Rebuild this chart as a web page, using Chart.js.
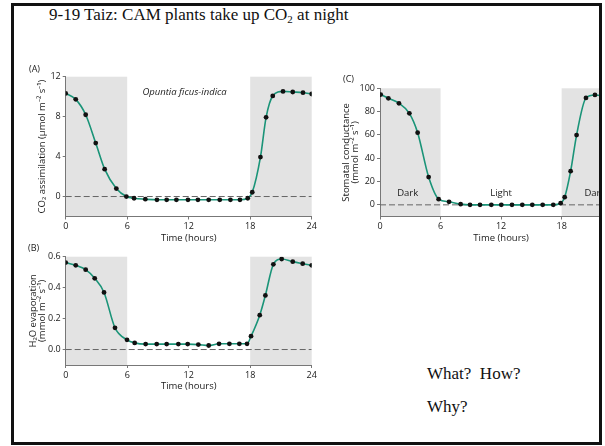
<!DOCTYPE html>
<html>
<head>
<meta charset="utf-8">
<script src="https://cdn.jsdelivr.net/npm/chart.js@4.4.1/dist/chart.umd.min.js"></script>
<style>
html, body { margin: 0; padding: 0; background: #fff; overflow: hidden; }
body { width: 605px; height: 446px; position: relative; }
#clip { position: absolute; left: 0; top: 0; width: 599px; height: 442px; overflow: hidden; }
canvas { position: absolute; }
#frame { position: absolute; left: 11px; top: 3px; width: 591px; height: 442px; border: 3px solid #111; box-sizing: border-box; pointer-events: none; }
.serif { position: absolute; font-family: 'Liberation Serif', 'Times New Roman', serif; font-size: 17px; line-height: 17px; color: #111; white-space: nowrap; }
.serif sub { font-size: 11px; line-height: 0; vertical-align: -3px; }
.tag { position: absolute; font-family: 'Open Sans', sans-serif; font-size: 9px; line-height: 10px; color: #222; }
</style>
</head>
<body>
<div id="clip">
  <canvas id="chartA"></canvas>
  <canvas id="chartB"></canvas>
  <canvas id="chartC"></canvas>
</div>
<div class="serif" style="left:49px; top:6px;">9-19 Taiz: CAM plants take up CO<sub>2</sub> at night</div>
<div class="serif" style="left:427px; top:365px;">What?&nbsp; How?</div>
<div class="serif" style="left:427px; top:398px;">Why?</div>
<div class="tag" style="left:29px; top:64px;">(A)</div>
<div class="tag" style="left:28px; top:243px;">(B)</div>
<div class="tag" style="left:343px; top:74px;">(C)</div>
<div id="frame"></div>

<script>
// shared time axis
const xTicks = [0, 6, 12, 18, 24];
const darkBands = [[0, 6], [18, 24]];

// (A) CO2 assimilation
const hoursA = [0, 0.98, 1.95, 2.93, 3.8, 4.94, 5.92, 6.67, 7.77, 8.9, 9.85, 10.8, 11.93, 12.9,
    13.95, 15.03, 16.07, 17.0, 17.76, 18.2, 19.0, 19.55, 20.2, 21.2, 22.15, 23.15, 24];
const co2Assimilation = [10.33, 9.73, 8.19, 5.35, 2.74, 0.8, 0, -0.17, -0.27, -0.33, -0.33, -0.33, -0.33, -0.33,
    -0.33, -0.33, -0.33, -0.33, -0.17, 0.43, 3.95, 7.93, 10.07, 10.53, 10.47, 10.4, 10.27];
const yTicksA = [0, 4, 8, 12];
const yLabelsA = ['0', '4', '8', '12'];

// (B) H2O evaporation
const hoursB = [0, 0.98, 1.95, 2.83, 3.74, 4.81, 5.98, 6.73, 7.8, 8.88, 9.85, 10.99, 11.9, 12.94,
    13.95, 14.96, 15.97, 16.94, 17.69, 18.08, 18.93, 19.48, 20.26, 21.07, 22.15, 23.12, 24];
const h2oEvaporation = [0.562, 0.544, 0.516, 0.46, 0.369, 0.14, 0.063, 0.043, 0.035, 0.035, 0.035, 0.035, 0.035, 0.032,
    0.026, 0.037, 0.037, 0.037, 0.037, 0.086, 0.222, 0.35, 0.551, 0.585, 0.568, 0.555, 0.544];
const yTicksB = [0, 0.2, 0.4, 0.6];
const yLabelsB = ['0.0', '0.2', '0.4', '0.6'];

// (C) stomatal conductance
const hoursC = [0.07, 0.83, 1.88, 2.91, 3.73, 4.82, 5.81, 6.84, 7.99, 8.92, 9.91, 11.03, 12.02,
    13.08, 14.1, 15.09, 16.12, 17.17, 17.9, 18.3, 18.89, 19.48, 20.41, 21.3, 22.19];
const stomatalConductance = [94.6, 91.4, 87.1, 78.5, 61.9, 23.8, 4.9, 2.6, 0.6, 0, 0, 0, 0,
    0, 0, 0, 0, 0, 1.4, 6.6, 28.9, 59.9, 91.7, 94.3, 93.5];
const yTicksC = [0, 20, 40, 60, 80, 100];
const yLabelsC = ['0', '20', '40', '60', '80', '100'];

const periodLabels = ['Dark', 'Light', 'Dark'];
const periodHours = [2.74, 12, 21.3];

Chart.defaults.font.family = "'Open Sans', sans-serif";
Chart.defaults.color = '#222';

const AXIS = '#777';
const INK = '#1a1a1a';

// grey night bands behind everything, text notes on top
const panelDeco = {
    id: 'panelDeco',
    beforeDraw(chart, args, opts) {
        const { ctx, chartArea: a, scales: { x } } = chart;
        ctx.save();
        ctx.fillStyle = '#e3e3e3';
        opts.bands.forEach(([s, e]) => {
            const x0 = x.getPixelForValue(s);
            const x1 = x.getPixelForValue(e);
            ctx.fillRect(x0, a.top, x1 - x0, a.bottom - a.top);
        });
        ctx.restore();
    },
    afterDatasetsDraw(chart, args, opts) {
        const { ctx, scales: { x, y } } = chart;
        ctx.save();
        ctx.fillStyle = INK;
        ctx.textAlign = 'center';
        ctx.textBaseline = 'middle';
        (opts.notes || []).forEach(n => {
            ctx.font = n.font;
            ctx.fillText(n.text, x.getPixelForValue(n.x), y.getPixelForValue(n.y));
        });
        ctx.restore();
    }
};

const curve = (xs, ys) => ({
    data: xs.map((h, i) => ({ x: h, y: ys[i] })),
    borderColor: '#1a9478',
    borderWidth: 1.6,
    pointRadius: 2.4,
    pointBackgroundColor: '#111',
    pointBorderWidth: 0,
    cubicInterpolationMode: 'monotone',
    fill: false
});

const zeroLine = () => ({
    data: [{ x: xTicks[0], y: 0 }, { x: xTicks[xTicks.length - 1], y: 0 }],
    borderColor: '#666',
    borderWidth: 1,
    borderDash: [6, 3],
    pointRadius: 0,
    fill: false
});

function makePanel(id, box, plot, spec) {
    const canvas = document.getElementById(id);
    canvas.width = box.w;
    canvas.height = box.h;
    canvas.style.left = box.left + 'px';
    canvas.style.top = box.top + 'px';
    canvas.style.width = box.w + 'px';
    canvas.style.height = box.h + 'px';

    new Chart(canvas.getContext('2d'), {
        type: 'line',
        data: { datasets: [curve(spec.hours, spec.values), zeroLine()] },
        options: {
            responsive: false,
            animation: false,
            devicePixelRatio: 1,
            layout: {
                autoPadding: false,
                padding: { left: box.padL, top: plot.t - box.top, right: box.left + box.w - plot.r, bottom: 0 }
            },
            plugins: {
                legend: { display: false },
                tooltip: { enabled: false },
                panelDeco: { bands: darkBands, notes: spec.notes }
            },
            scales: {
                x: {
                    type: 'linear',
                    min: 0,
                    max: 24,
                    afterBuildTicks: s => { s.ticks = xTicks.map(v => ({ value: v })); },
                    afterFit: s => { s.height = box.top + box.h - plot.b; },
                    ticks: { autoSkip: false, maxRotation: 0, padding: 2, font: { size: 9 }, color: INK },
                    grid: { display: true, drawOnChartArea: false, drawTicks: true, tickLength: 3, color: AXIS },
                    border: { display: true, color: AXIS },
                    title: { display: true, text: 'Time (hours)', font: { size: 9.5, lineHeight: 1.2 }, padding: { top: 0, bottom: 4 }, color: INK }
                },
                y: {
                    type: 'linear',
                    min: spec.yMin,
                    max: spec.yMax,
                    afterBuildTicks: s => { s.ticks = spec.yTicks.map(v => ({ value: v })); },
                    afterFit: s => { s.width = plot.l - box.left - box.padL; },
                    ticks: { padding: 2, font: { size: 9 }, color: INK, callback: (v, i) => spec.yLabels[i] },
                    grid: { display: true, drawOnChartArea: false, drawTicks: true, tickLength: 3, color: AXIS },
                    border: { display: true, color: AXIS },
                    title: { display: true, text: spec.yTitle, font: { size: 9.5, lineHeight: 0.95 }, padding: { top: 4, bottom: 0 }, color: INK }
                }
            }
        },
        plugins: [panelDeco]
    });
}

makePanel('chartA',
    { left: 20, top: 62, w: 300, h: 186, padL: 14 },
    { l: 65.7, t: 76.7, r: 311.7, b: 216.5 },
    {
        hours: hoursA, values: co2Assimilation, yMin: -2, yMax: 12,
        yTicks: yTicksA, yLabels: yLabelsA,
        yTitle: 'CO\u2082 assimilation (\u00b5mol m\u207b\u00b2 s\u207b\u00b9)',
        notes: [{ text: 'Opuntia ficus-indica', x: 11.6, y: 10.45, font: 'italic 9.5px "Open Sans", sans-serif' }]
    });

makePanel('chartB',
    { left: 20, top: 242, w: 300, h: 154, padL: 4.5 },
    { l: 65.7, t: 256.7, r: 311.7, b: 365 },
    {
        hours: hoursB, values: h2oEvaporation, yMin: -0.1, yMax: 0.6,
        yTicks: yTicksB, yLabels: yLabelsB,
        yTitle: ['H\u2082O evaporation', '(mmol m\u207b\u00b2 s\u207b\u00b9)'],
        notes: []
    });

makePanel('chartC',
    { left: 330, top: 72, w: 302, h: 176, padL: 7.3 },
    { l: 380, t: 88.3, r: 622.2, b: 216.5 },
    {
        hours: hoursC, values: stomatalConductance, yMin: -10, yMax: 100,
        yTicks: yTicksC, yLabels: yLabelsC,
        yTitle: ['Stomatal conductance', '(mmol m\u207b\u00b2 s\u207b\u00b9)'],
        notes: periodLabels.map((t, i) => ({ text: t, x: periodHours[i], y: 10.3, font: '9.5px "Open Sans", sans-serif' }))
    });
</script>
</body>
</html>
